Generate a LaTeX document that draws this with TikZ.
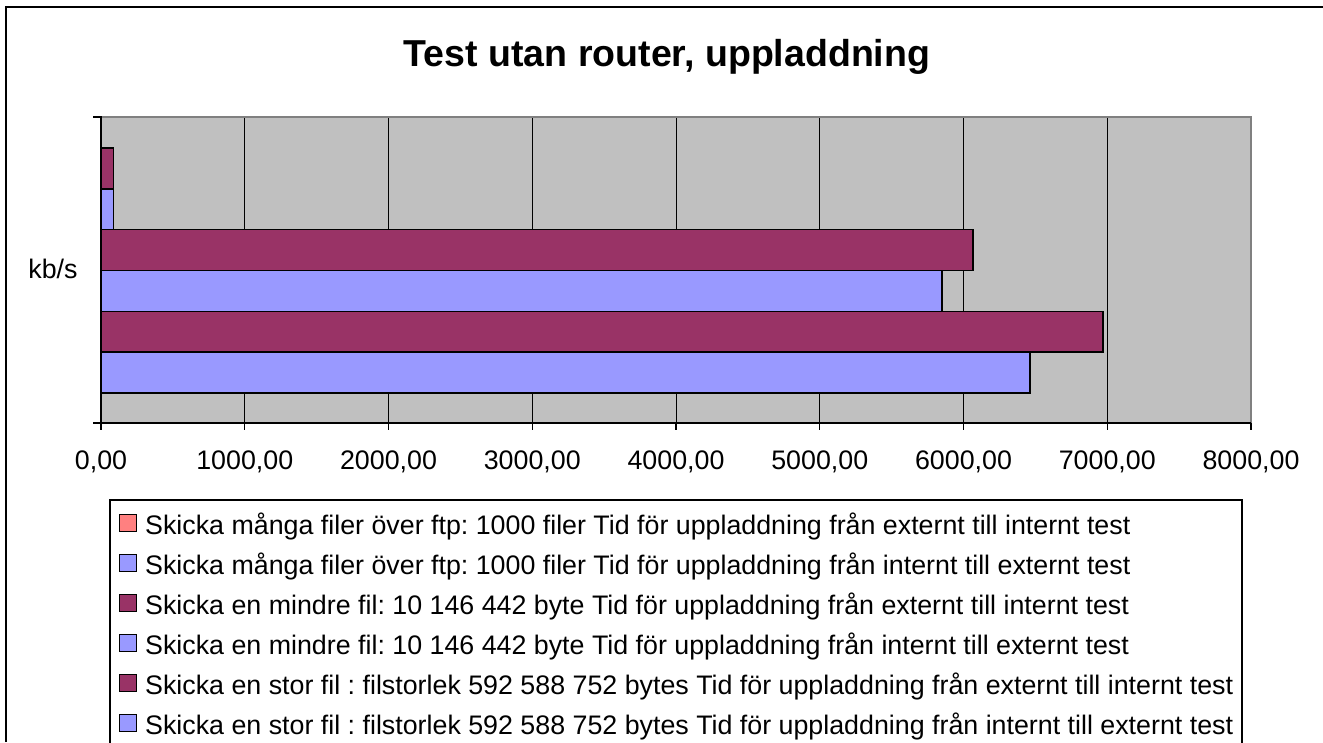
\documentclass[tikz,border=0pt]{standalone}
\usepackage{fontspec}
\setmainfont{Liberation Sans}
\usetikzlibrary{positioning}
\definecolor{PlotGray}{RGB}{192,192,192}
\definecolor{EdgeGray}{RGB}{128,128,128}
\definecolor{PlumBar}{RGB}{153,51,102}
\definecolor{LilacBar}{RGB}{153,153,255}
\definecolor{SalmonBar}{RGB}{255,128,128}
\tikzset{
  bar/.style={draw=black,line width=1.4pt},
  grid line/.style={black,line width=0.9pt},
  tick label/.style={anchor=base,font=\fontsize{26.8}{30}\selectfont,inner sep=0pt},
  legend entry/.style={anchor=base west,font=\fontsize{26.8}{30}\selectfont\frenchspacing,inner sep=0pt},
  swatch/.style={draw=black,line width=1.2pt,minimum size=17pt,inner sep=0pt},
  chart title/.style={anchor=base,font=\fontsize{37.5}{42}\selectfont\bfseries,inner sep=0pt}
}

\begin{document}
\begin{tikzpicture}[x=1pt,y=-1pt]
  \useasboundingbox (0,0) rectangle (1323,742);
  \clip (0,0) rectangle (1323,742);
  % chart frame
  \draw[line width=1.5pt] (6,742) -- (6,7) -- (1323,7);
  \node[chart title] (title) at (667,66) {Test utan router, uppladdning};
  % plot area and grid
  \fill[PlotGray] (101,117) rectangle (1251,423);
  \foreach \v in {1,...,7}
    \draw[grid line] (101+143.75*\v,117) -- (101+143.75*\v,423);
  \draw[EdgeGray,line width=1.5pt] (101,117) -- (1251,117) -- (1251,423);
  % bars
  \foreach \val/\col [count=\i from 0] in
    {85/PlumBar,85/LilacBar,6066/PlumBar,5850/LilacBar,6970/PlumBar,6463/LilacBar}
    \filldraw[bar,fill=\col] (101,148+40.83*\i) rectangle (101+0.14375*\val,188.83+40.83*\i);
  % axes
  \draw[line width=1.2pt] (93,117) -- (101,117) -- (101,423) -- (1251,423);
  \draw[line width=1.2pt] (93,423) -- (101,423);
  \foreach \v in {0,...,8}{
    \draw[line width=1.2pt] (101+143.75*\v,423) -- (101+143.75*\v,430);
    \node[tick label] (xt\v) at (101+143.75*\v,469) {\ifnum\v=0 0,00\else\v000,00\fi};
  }
  \node[tick label] (ylab) at (53,278) {kb/s};
  % legend
  \draw[line width=1.2pt] (110,745) -- (110,500) -- (1242,500) -- (1242,745);
  \foreach \col/\txt [count=\i from 0] in
    {SalmonBar/{Skicka många filer över ftp: 1000 filer Tid för uppladdning från externt till internt test},
     LilacBar/{Skicka många filer över ftp: 1000 filer Tid för uppladdning från internt till externt test},
     PlumBar/{Skicka en mindre fil: 10 146 442 byte Tid för uppladdning från externt till internt test},
     LilacBar/{Skicka en mindre fil: 10 146 442 byte Tid för uppladdning från internt till externt test},
     PlumBar/{Skicka en stor fil : filstorlek 592 588 752 bytes Tid för uppladdning från externt till internt test},
     LilacBar/{Skicka en stor fil : filstorlek 592 588 752 bytes Tid för uppladdning från internt till externt test}}{
    \node[swatch,fill=\col] (sw\i) at (128,523+40*\i) {};
    \node[legend entry] (lg\i) at (145,534+40*\i) {\txt};
  }
\end{tikzpicture}
\end{document}
